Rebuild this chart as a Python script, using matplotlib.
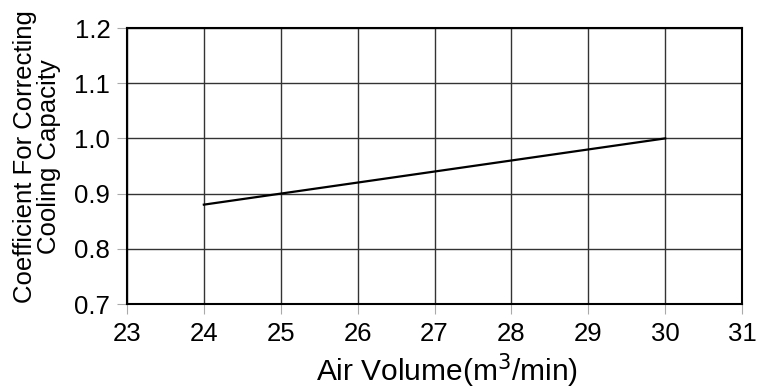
import numpy as np
import matplotlib.pyplot as plt

plt.rcParams['font.family'] = ['Liberation Sans', 'DejaVu Sans']

# air volume (m3/min) vs correction coefficient
air_volume = [24, 30]
coefficient = [0.88, 1.00]

x_ticks = [23, 24, 25, 26, 27, 28, 29, 30, 31]
y_ticks = [0.7, 0.8, 0.9, 1.0, 1.1, 1.2]

fig = plt.figure(figsize=(7.58, 3.89), dpi=100)
ax = fig.add_axes([0.1675, 0.2185, 0.8115, 0.7095])

ax.plot(air_volume, coefficient, color='black', linewidth=1.6)

ax.set_xlim(23, 31)
ax.set_ylim(0.7, 1.2)
ax.set_xticks(x_ticks)
ax.set_yticks(y_ticks)
ax.set_yticklabels(["%.1f" % v for v in y_ticks])
ax.grid(True, color='#333333', linewidth=1.0)
ax.set_axisbelow(True)

for sp in ax.spines.values():
    sp.set_linewidth(1.5)
    sp.set_color('black')

ax.tick_params(axis='both', labelsize=18.5, length=7, width=0.8, color='#aaaaaa')
ax.tick_params(axis='x', pad=6)
ax.tick_params(axis='y', pad=5)

ax.set_xlabel("Air Volume(m$^3$/min)", fontsize=21.5, labelpad=4)
ax.set_ylabel("Coefficient For Correcting\nCooling Capacity", fontsize=18.5, labelpad=10, linespacing=0.95)
# labels sit a bit off-centre in the original
ax.xaxis.label.set_x(0.52)
ax.yaxis.label.set_y(0.535)

fig.savefig("out.png", dpi=100)
